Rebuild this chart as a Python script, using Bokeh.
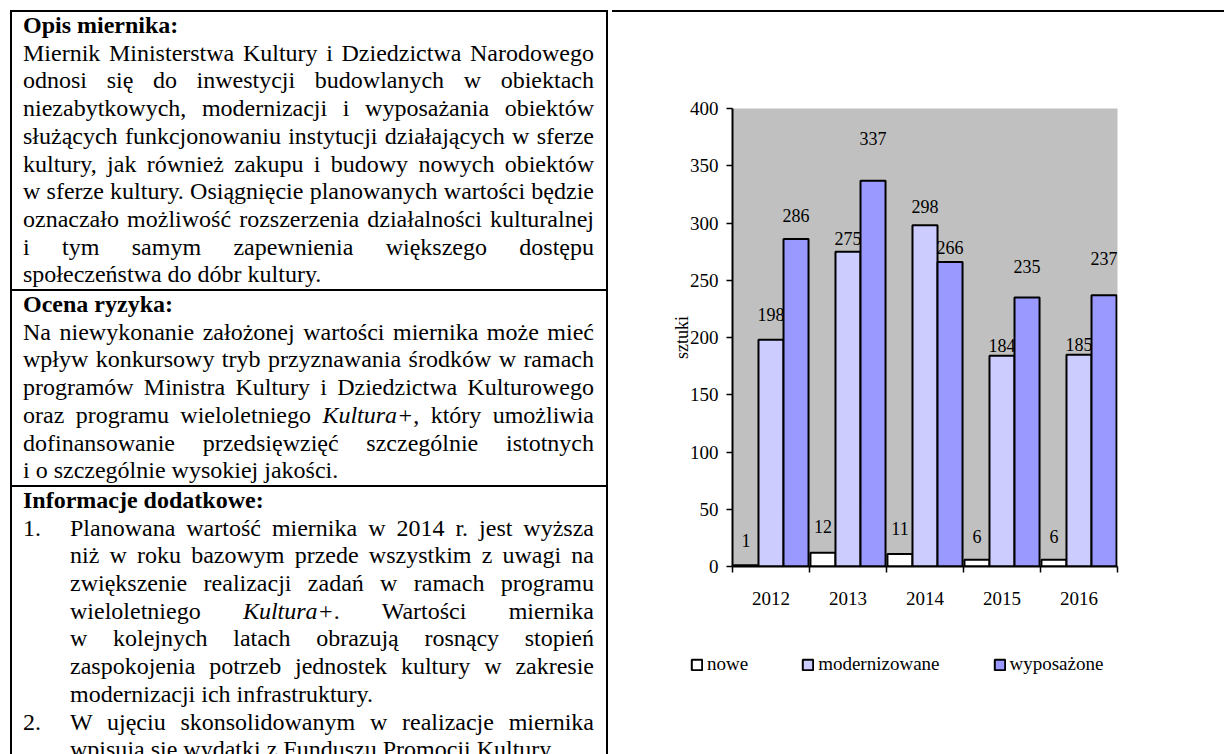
from bokeh.plotting import figure
from bokeh.models import ColumnDataSource, Range1d, FixedTicker, Legend, LegendItem, Div
from bokeh.layouts import row, column
from bokeh.embed import file_html
from bokeh.resources import INLINE
from bokeh.core.properties import value

# ---------------- data ----------------
years = ["2012", "2013", "2014", "2015", "2016"]
nowe = [1, 12, 11, 6, 6]
modernizowane = [198, 275, 298, 184, 185]
wyposazone = [286, 337, 266, 235, 237]
series_names = ["nowe", "modernizowane", "wyposażone"]
y_ticks = [0, 50, 100, 150, 200, 250, 300, 350, 400]
y_label = "sztuki"

# ---------------- text of the table ----------------
sec1_head = "Opis miernika:"
sec1_lines = [
    "Miernik Ministerstwa Kultury i Dziedzictwa Narodowego",
    "odnosi się do inwestycji budowlanych w obiektach",
    "niezabytkowych, modernizacji i wyposażania obiektów",
    "służących funkcjonowaniu instytucji działających w sferze",
    "kultury, jak również zakupu i budowy nowych obiektów",
    "w sferze kultury. Osiągnięcie planowanych wartości będzie",
    "oznaczało możliwość rozszerzenia działalności kulturalnej",
    "i tym samym zapewnienia większego dostępu",
    "społeczeństwa do dóbr kultury.",
]
sec2_head = "Ocena ryzyka:"
sec2_lines = [
    "Na niewykonanie założonej wartości miernika może mieć",
    "wpływ konkursowy tryb przyznawania środków w ramach",
    "programów Ministra Kultury i Dziedzictwa Kulturowego",
    "oraz programu wieloletniego <i>Kultura+</i>, który umożliwia",
    "dofinansowanie przedsięwzięć szczególnie istotnych",
    "i o szczególnie wysokiej jakości.",
]
sec3_head = "Informacje dodatkowe:"
sec3_item1 = [
    "Planowana wartość miernika w 2014 r. jest wyższa",
    "niż w roku bazowym przede wszystkim z uwagi na",
    "zwiększenie realizacji zadań w ramach programu",
    "wieloletniego <i>Kultura+</i>. Wartości miernika",
    "w kolejnych latach obrazują rosnący stopień",
    "zaspokojenia potrzeb jednostek kultury w zakresie",
    "modernizacji ich infrastruktury.",
]
sec3_item2 = [
    "W ujęciu skonsolidowanym w realizacje miernika",
    "wpisują się wydatki z Funduszu Promocji Kultury.",
]

FONT = "Liberation Serif"
COLORS = ["#FFFFFF", "#CCCCFF", "#9999FF"]
# label lift above bar tops, px (styling)
label_lift = [[25, 26, 25, 23, 23], [25, 13, 19, 10, 10], [24, 42, 14, 31, 37]]


def para(lines):
    out = []
    for k, ln in enumerate(lines):
        last = k == len(lines) - 1
        st = "text-align:left" if last else "text-align:justify;text-align-last:justify"
        out.append(f'<div style="{st}">{ln}</div>')
    return "".join(out)


def item(num, lines):
    return ('<div style="display:flex">'
            f'<div style="width:47px;flex:none">{num}</div>'
            f'<div style="flex:1 1 auto;min-width:0">{para(lines)}</div></div>')


sec_style = "padding:0 12px 0 11px;"
html = (
    '<div style="padding:10px 0 0 10px;width:602px">'
    '<div style="width:598px;'
    'border-left:2px solid #000;border-right:2px solid #000;border-top:2px solid #000;'
    f'font-family:{FONT},serif;font-size:24px;line-height:27.7px;color:#000;">'
    f'<div style="{sec_style}"><b>{sec1_head}</b>{para(sec1_lines)}</div>'
    f'<div style="{sec_style}border-top:2px solid #000"><b>{sec2_head}</b>{para(sec2_lines)}</div>'
    f'<div style="{sec_style}border-top:2px solid #000"><b>{sec3_head}</b>'
    f'{item("1.", sec3_item1)}{item("2.", sec3_item2)}</div>'
    '</div></div>'
)
left = Div(text=html, width=612, height=754, margin=0, styles={"overflow": "hidden"})
top_line = Div(text='<div style="padding-top:10px"><div style="height:2px;width:612px;background:#000"></div></div>',
               width=612, height=12, margin=0, styles={"overflow": "hidden"})

# ---------------- chart ----------------
n = len(years)
centers = [i + 0.5 for i in range(n)]
bw = 0.325

p = figure(width=612, height=618, x_range=Range1d(0, n), y_range=Range1d(0, 400),
           output_backend="svg", toolbar_location=None, margin=0,
           min_border_left=120, min_border_right=107, min_border_top=96, min_border_bottom=64)
p.frame_align = False
p.background_fill_color = "#C0C0C0"
p.border_fill_color = "white"
p.outline_line_color = None
p.xgrid.visible = False
p.ygrid.visible = False

series_values = [nowe, modernizowane, wyposazone]
sources = []
renderers = []
for j, (name, vals, col) in enumerate(zip(series_names, series_values, COLORS)):
    xs = [c + (j - 1) * bw for c in centers]
    src = ColumnDataSource(dict(x=xs, top=vals, label=[str(v) for v in vals],
                                dy=[-d for d in label_lift[j]]))
    sources.append(src)
    r = p.vbar(x="x", top="top", bottom=0, width=bw, source=src,
               fill_color=col, line_color="black", line_width=2)
    p.text(x="x", y="top", text="label", y_offset="dy", source=src,
           text_align="center", text_baseline="middle",
           text_font=value(FONT), text_font_size="18px", text_color="black")
    renderers.append(r)

xa = p.xaxis[0]
xa.ticker = FixedTicker(ticks=centers, minor_ticks=list(range(n + 1)))
xa.major_label_overrides = {c: y for c, y in zip(centers, years)}
xa.major_tick_in = 0
xa.major_tick_out = 0
xa.minor_tick_in = 0
xa.minor_tick_out = 6
xa.minor_tick_line_color = "black"
xa.minor_tick_line_width = 1.5
xa.axis_line_color = "black"
xa.axis_line_width = 2
xa.major_label_standoff = 19
xa.major_label_text_font = FONT
xa.major_label_text_font_size = "19px"
xa.major_label_text_color = "black"

ya = p.yaxis[0]
ya.ticker = FixedTicker(ticks=y_ticks)
ya.minor_tick_line_color = None
ya.major_tick_in = 0
ya.major_tick_out = 6
ya.major_tick_line_color = "black"
ya.major_tick_line_width = 1.5
ya.axis_line_color = "black"
ya.axis_line_width = 2
ya.major_label_standoff = 8
ya.major_label_text_font = FONT
ya.major_label_text_font_size = "19px"
ya.major_label_text_color = "black"
ya.axis_label = y_label
ya.axis_label_text_font = FONT
ya.axis_label_text_font_size = "18px"
ya.axis_label_text_font_style = "normal"
ya.axis_label_text_color = "black"
ya.axis_label_standoff = -5

# ---------------- legend strip under the chart ----------------
lf = figure(width=612, height=124, x_range=Range1d(0, 1), y_range=Range1d(0, 1),
            output_backend="svg", toolbar_location=None, margin=0,
            x_axis_type=None, y_axis_type=None,
            min_border_left=0, min_border_right=0, min_border_top=0, min_border_bottom=0)
lf.frame_align = False
lf.outline_line_color = None
lf.xgrid.visible = False
lf.ygrid.visible = False
lf.background_fill_color = "white"
lf.border_fill_color = "white"
# legend proxies: same series and styles, hidden (legend swatches only)
swatches = []
for src, col in zip(sources, COLORS):
    sw = lf.vbar(x="x", top="top", bottom=0, width=bw, source=src, fill_color=col,
                 line_color="black", line_width=2)
    sw.visible = False
    swatches.append(sw)
legend = Legend(items=[LegendItem(label=nm, renderers=[r]) for nm, r in zip(series_names, swatches)],
                location=(78, 79), orientation="horizontal", padding=0, margin=0, spacing=53,
                glyph_width=13, glyph_height=13, label_height=13, label_standoff=4,
                label_text_font=FONT, label_text_font_size="19px", label_text_color="black",
                border_line_color=None, background_fill_alpha=0, inactive_fill_alpha=0)
lf.add_layout(legend, "center")

layout = row(left, column(top_line, p, lf))
open("out.html", "w").write(file_html(layout, INLINE))
